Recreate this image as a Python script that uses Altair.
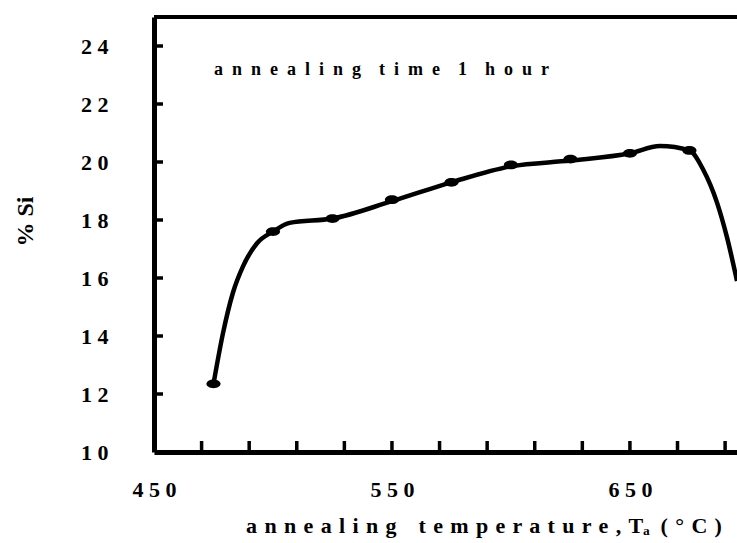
import altair as alt
import pandas as pd

# Measured Si content after 1 h anneals
temp = [475, 500, 525, 550, 575, 600, 625, 650, 675]
si = [12.35, 17.6, 18.05, 18.7, 19.3, 19.9, 20.1, 20.3, 20.4]

# Hand-drawn trend curve through the measurements
curve_t = [475, 479, 483.2, 487.4, 493.3, 500, 507, 525, 550,
           575, 600, 625, 650, 662.6, 675, 680.7, 686.6, 690.8, 695]
curve_si = [12.35, 14.1, 15.5, 16.4, 17.2, 17.6, 17.9, 18.05, 18.65,
            19.3, 19.85, 20.05, 20.3, 20.55, 20.4, 19.75, 18.6, 17.4, 15.9]

x_ticks = [470, 490, 510, 530, 550, 570, 590, 610, 630, 650, 670, 690]
x_labels = [450, 550, 650]
y_ticks = [12, 14, 16, 18, 20, 22, 24]
y_labels = [10, 12, 14, 16, 18, 20, 22, 24]

FONT = "Liberation Serif"
W, H = 583, 435
SP = " "
WIDE = " \u00a0"
TITLE_GAP = " \u200a"


def spaced(text, gap=SP, word_gap=WIDE + WIDE):
    return word_gap.join(gap.join(w) for w in text.split(" "))


x_scale = alt.Scale(domain=[450, 695], nice=False, zero=False)
y_scale = alt.Scale(domain=[10, 25], nice=False, zero=False)

digit_gap = "replace(datum.label, regexp('([0-9])(?=[0-9])', 'g'), '$1 ')"

points_df = pd.DataFrame({"t": temp, "si": si})
curve_df = pd.DataFrame({"t": curve_t, "si": curve_si})

curve = alt.Chart(curve_df).mark_line(
    color="black", strokeWidth=4.5, interpolate="monotone", clip=True
).encode(
    x=alt.X("t:Q", scale=x_scale,
            axis=alt.Axis(values=x_labels, title=None, ticks=False, tickSize=0,
                          labelPadding=27, labelExpr=digit_gap,
                          labelFont=FONT, labelFontSize=22, labelFontWeight="bold",
                          labelColor="black", domainColor="black", domainWidth=5,
                          grid=False, labelFlush=False)),
    y=alt.Y("si:Q", scale=y_scale,
            axis=alt.Axis(values=y_labels, title="% Si", ticks=False, tickSize=0,
                          labelPadding=46, labelExpr=digit_gap,
                          labelFont=FONT, labelFontSize=22, labelFontWeight="bold",
                          labelColor="black", domainColor="black", domainWidth=5,
                          grid=False, labelFlush=False,
                          titleFont=FONT, titleFontSize=24, titleFontWeight="bold",
                          titleColor="black", titleAngle=270, titleX=-129, titleY=204,
                          titleAlign="center", titleBaseline="middle")),
)

dots = alt.Chart(points_df).mark_point(
    shape="M -1 0 A 1 0.62 0 1 1 1 0 A 1 0.62 0 1 1 -1 0 Z",
    filled=True, color="black", opacity=1, size=200
).encode(
    x=alt.X("t:Q", scale=x_scale),
    y=alt.Y("si:Q", scale=y_scale),
)

xtick_layer = alt.Chart(pd.DataFrame({"t": x_ticks})).mark_rule(
    color="black", strokeWidth=3.5
).encode(
    x=alt.X("t:Q", scale=x_scale),
    y=alt.value(H),
    y2=alt.value(H - 11),
)

ytick_layer = alt.Chart(pd.DataFrame({"si": y_ticks})).mark_rule(
    color="black", strokeWidth=3.5
).encode(
    y=alt.Y("si:Q", scale=y_scale),
    x=alt.value(0),
    x2=alt.value(9),
)

top_line = alt.Chart(pd.DataFrame({"k": [0]})).mark_rule(
    color="black", strokeWidth=4
).encode(
    x=alt.value(0), x2=alt.value(W), y=alt.value(0)
)

note = alt.Chart(pd.DataFrame({"label": [spaced("annealing time 1 hour", WIDE, WIDE + WIDE)]})).mark_text(
    font=FONT, fontSize=18, fontWeight="bold", color="black",
    align="left", baseline="alphabetic"
).encode(
    x=alt.value(60), y=alt.value(58), text="label:N"
)

x_title = alt.Chart(pd.DataFrame({"label": [
    spaced("annealing temperature,T", TITLE_GAP, WIDE + WIDE) + "\u2090" + WIDE + spaced("(°C)", TITLE_GAP)
]})).mark_text(
    font=FONT, fontSize=22, fontWeight="bold", color="black",
    align="center", baseline="alphabetic"
).encode(
    x=alt.value(484 - 154), y=alt.value(533 - 17), text="label:N"
)

chart = alt.layer(
    curve, dots, xtick_layer, ytick_layer, top_line, note, x_title
).properties(
    width=W, height=H,
    padding={"left": 154, "top": 17, "right": 0, "bottom": 91},
    autosize=alt.AutoSizeParams(type="none"),
    background="white",
).configure_view(stroke=None)

chart.save("out.html", embed_options={"renderer": "svg", "actions": False})
